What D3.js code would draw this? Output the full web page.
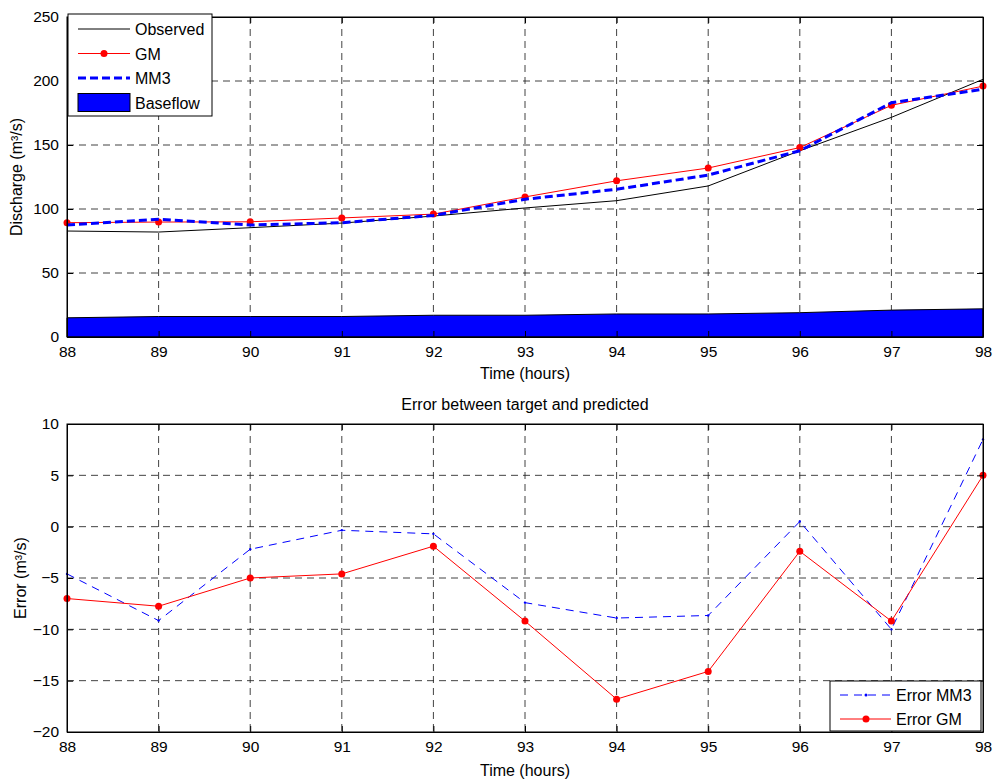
<!DOCTYPE html>
<html><head><meta charset="utf-8">
<script src="https://cdn.jsdelivr.net/npm/d3@7"></script>
<style>body{margin:0;background:#fff}svg{display:block;font-family:"Liberation Sans",Arial,sans-serif}</style>
</head><body>
<svg id="c" width="999" height="780"></svg>
<script>
const hours = [88,89,90,91,92,93,94,95,96,97,98];
const observed = [82.8,82,85.4,89,94.5,100.8,106.5,118,145.5,171.6,201.3];
const gm = [89.3,89.8,90,93,96,109.4,122,132,148,181,196];
const mm3 = [87.5,92,87.5,89.3,95,107.6,115.4,126.5,145.5,183,193.5];
const baseflow = [15,16,16,16,17,17,18,18,19,21,22];
const errMM3 = [-4.6,-9.15,-2.2,-0.35,-0.7,-7.4,-8.9,-8.65,0.5,-10.0,8.5];
const errGM = [-7.0,-7.75,-5.0,-4.6,-1.9,-9.2,-16.8,-14.1,-2.4,-9.2,5.0];
const topYTicks = [0,50,100,150,200,250];
const botYTicks = [-20,-15,-10,-5,0,5,10];

const svg = d3.select("#c");
const L = 67, R = 983;
const FS = 16, TFS = 15.5;

function panel(top, bottom, ydom, yticks){
  const x = d3.scaleLinear().domain([88,98]).range([L,R]);
  const y = d3.scaleLinear().domain(ydom).range([bottom,top]);
  const g = svg.append("g");
  g.append("g").selectAll("line").data(hours.slice(1,-1)).join("line")
    .attr("x1",d=>x(d)).attr("x2",d=>x(d)).attr("y1",top).attr("y2",bottom)
    .attr("stroke","#222").attr("stroke-opacity",0.85).attr("stroke-dasharray","7,5");
  g.append("g").selectAll("line").data(yticks.slice(1,-1)).join("line")
    .attr("y1",d=>y(d)).attr("y2",d=>y(d)).attr("x1",L).attr("x2",R)
    .attr("stroke","#222").attr("stroke-opacity",0.85).attr("stroke-dasharray","7,5");
  return {x,y,g,top,bottom};
}
function frame(p, yticks){
  const {x,y,g,top,bottom} = p;
  const ax = g.append("g");
  ax.append("g").attr("transform",`translate(0,${bottom})`)
    .call(d3.axisBottom(x).tickValues(hours).tickFormat(d3.format("d")).tickSizeInner(-6).tickSizeOuter(0).tickPadding(9));
  ax.append("g").attr("transform",`translate(0,${top})`)
    .call(d3.axisTop(x).tickValues(hours).tickFormat("").tickSizeInner(-6).tickSizeOuter(0));
  ax.append("g").attr("transform",`translate(${L},0)`)
    .call(d3.axisLeft(y).tickValues(yticks).tickFormat(d3.format("d")).tickSizeInner(-6).tickSizeOuter(0).tickPadding(8));
  ax.append("g").attr("transform",`translate(${R},0)`)
    .call(d3.axisRight(y).tickValues(yticks).tickFormat("").tickSizeInner(-6).tickSizeOuter(0));
  ax.selectAll(".domain").attr("stroke","#000");
  ax.selectAll(".tick line").attr("stroke","#000");
  ax.selectAll("text").attr("font-size",TFS).attr("fill","#000").attr("font-family","Liberation Sans, Arial, sans-serif");
  g.append("rect").attr("x",L).attr("y",top).attr("width",R-L).attr("height",bottom-top)
    .attr("fill","none").attr("stroke","#000");
}

// ---- top panel
const p1 = panel(17,337,[0,250],topYTicks);
const area = d3.area().x((d,i)=>p1.x(hours[i])).y0(p1.y(0)).y1(d=>p1.y(d));
p1.g.append("path").datum(baseflow).attr("d",area).attr("fill","#0000ff").attr("stroke","#000").attr("stroke-width",1);
const l1 = d3.line().x((d,i)=>p1.x(hours[i])).y(d=>p1.y(d));
p1.g.append("path").datum(observed).attr("d",l1).attr("fill","none").attr("stroke","#000").attr("stroke-width",1);
p1.g.append("path").datum(gm).attr("d",l1).attr("fill","none").attr("stroke","#ff0000").attr("stroke-width",1);
p1.g.append("g").selectAll("circle").data(gm).join("circle")
  .attr("cx",(d,i)=>p1.x(hours[i])).attr("cy",d=>p1.y(d)).attr("r",3.5).attr("fill","#ff0000");
p1.g.append("path").datum(mm3).attr("d",l1).attr("fill","none").attr("stroke","#0000ff").attr("stroke-width",3).attr("stroke-dasharray","8,4");
frame(p1, topYTicks);

// top legend
const lg = svg.append("g");
lg.append("rect").attr("x",68).attr("y",14).attr("width",144).attr("height",102).attr("fill","#fff").attr("stroke","#000");
const items = [
  {t:"Observed",c:"#000",w:1,dash:null,dot:false},
  {t:"GM",c:"#ff0000",w:1,dash:null,dot:true},
  {t:"MM3",c:"#0000ff",w:3,dash:"8,4",dot:false},
  {t:"Baseflow",rect:true}
];
items.forEach((it,i)=>{
  const yy = 29 + i*24.5;
  if(it.rect){
    lg.append("rect").attr("x",78).attr("y",yy-9).attr("width",52).attr("height",18).attr("fill","#0000ff").attr("stroke","#000");
  } else {
    lg.append("line").attr("x1",78).attr("x2",130).attr("y1",yy).attr("y2",yy)
      .attr("stroke",it.c).attr("stroke-width",it.w).attr("stroke-dasharray",it.dash);
    if(it.dot) lg.append("circle").attr("cx",104).attr("cy",yy).attr("r",3.5).attr("fill","#ff0000");
  }
  lg.append("text").attr("x",135).attr("y",yy+6).attr("font-size",FS).text(it.t);
});

svg.append("text").attr("x",525).attr("y",379).attr("text-anchor","middle").attr("font-size",FS).text("Time (hours)");
svg.append("text").attr("transform","translate(22,177) rotate(-90)").attr("text-anchor","middle").attr("font-size",FS).text("Discharge (m³/s)");

// ---- bottom panel
const p2 = panel(424,732,[-20,10],botYTicks);
const l2 = d3.line().x((d,i)=>p2.x(hours[i])).y(d=>p2.y(d));
p2.g.append("path").datum(errMM3).attr("d",l2).attr("fill","none").attr("stroke","#0000ff").attr("stroke-width",1).attr("stroke-dasharray","8,6");
p2.g.append("g").selectAll("circle").data(errMM3).join("circle")
  .attr("cx",(d,i)=>p2.x(hours[i])).attr("cy",d=>p2.y(d)).attr("r",1.2).attr("fill","#0000ff");
p2.g.append("path").datum(errGM).attr("d",l2).attr("fill","none").attr("stroke","#ff0000").attr("stroke-width",1);
p2.g.append("g").selectAll("circle").data(errGM).join("circle")
  .attr("cx",(d,i)=>p2.x(hours[i])).attr("cy",d=>p2.y(d)).attr("r",3.5).attr("fill","#ff0000");
frame(p2, botYTicks);

const lg2 = svg.append("g");
lg2.append("rect").attr("x",830).attr("y",681).attr("width",151).attr("height",50).attr("fill","#fff").attr("stroke","#000");
[{t:"Error MM3",c:"#0000ff",dash:"8,6",r:1.5},{t:"Error GM",c:"#ff0000",dash:null,r:3.5}].forEach((it,i)=>{
  const yy = 695 + i*24;
  lg2.append("line").attr("x1",840).attr("x2",891).attr("y1",yy).attr("y2",yy).attr("stroke",it.c).attr("stroke-dasharray",it.dash);
  lg2.append("circle").attr("cx",866).attr("cy",yy).attr("r",it.r).attr("fill",it.c);
  lg2.append("text").attr("x",896).attr("y",yy+6).attr("font-size",FS).text(it.t);
});

svg.append("text").attr("x",525).attr("y",410).attr("text-anchor","middle").attr("font-size",FS).text("Error between target and predicted");
svg.append("text").attr("x",525).attr("y",776).attr("text-anchor","middle").attr("font-size",FS).text("Time (hours)");
svg.append("text").attr("transform","translate(26,578) rotate(-90)").attr("text-anchor","middle").attr("font-size",FS).text("Error (m³/s)");
</script>
</body></html>
